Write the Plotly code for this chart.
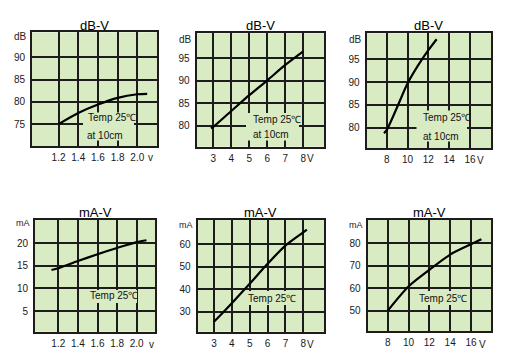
import plotly.graph_objects as go

W, H = 508, 363

# ---------------- data ----------------
db1_v = [1.2, 1.4, 1.6, 1.8, 2.0, 2.1]
db1_db = [75.0, 77.5, 79.4, 80.9, 81.7, 81.8]

db2_v = [2.87, 3, 4, 5, 6, 7, 8]
db2_db = [79.5, 79.8, 83.3, 86.8, 90.1, 93.5, 96.5]

db3_v = [7.74, 8, 9, 10, 11, 12, 12.8]
db3_db = [78.8, 79.5, 84.5, 89.7, 93.6, 97.0, 99.4]

ma1_v = [1.13, 1.2, 1.4, 1.6, 1.8, 2.0, 2.1]
ma1_ma = [14.1, 14.5, 16.1, 17.6, 19.0, 20.3, 20.7]

ma2_v = [3, 4, 5, 6, 7, 8, 8.2]
ma2_ma = [25.5, 33.8, 42.4, 51.3, 59.4, 65.3, 66.5]

ma3_v = [8, 10, 12, 14, 16, 17]
ma3_ma = [50, 60.8, 68.2, 75.0, 79.6, 81.8]

xt_low = [1.2, 1.4, 1.6, 1.8, 2.0]
xl_low = ["1.2", "1.4", "1.6", "1.8", "2.0"]
xt_mid = [3, 4, 5, 6, 7, 8]
xl_mid = ["3", "4", "5", "6", "7", "8"]
xt_high = [8, 10, 12, 14, 16]
xl_high = ["8", "10", "12", "14", "16"]

yt_db1 = [75, 80, 85, 90]
yt_db23 = [80, 85, 90, 95]
yt_ma1 = [5, 10, 15, 20]
yt_ma2 = [30, 40, 50, 60]
yt_ma3 = [50, 60, 70, 80]

titles = ["dB-V", "dB-V", "dB-V", "mA-V", "mA-V", "mA-V"]
units_y = ["dB", "dB", "dB", "mA", "mA", "mA"]
units_x = ["v", "V", "V", "v", "V", "V"]
note_temp = "Temp 25\u2103"
note_dist = "at 10cm"

# ---------------- layout geometry ----------------
BG = "#d9ebc2"
GRID = "#1c1c1c"
FONT = "Liberation Sans, Arial, sans-serif"

panels = [
    dict(x=db1_v, y=db1_db, box=(32, 157, 32.3, 146), xr=[0.93, 2.2], yr=[70.1, 95.6],
         xt=xt_low, xl=xl_low, yt=yt_db1),
    dict(x=db2_v, y=db2_db, box=(196.7, 324, 33.3, 146.7), xr=[2.08, 9.15], yr=[75.4, 100.5],
         xt=xt_mid, xl=xl_mid, yt=yt_db23),
    dict(x=db3_v, y=db3_db, box=(366.7, 491, 33.3, 148.3), xr=[6.08, 18.02], yr=[75.5, 100.7],
         xt=xt_high, xl=xl_high, yt=yt_db23),
    dict(x=ma1_v, y=ma1_ma, box=(35, 155, 220, 331.7), xr=[0.962, 2.187], yr=[0.41, 25.2],
         xt=xt_low, xl=xl_low, yt=yt_ma1),
    dict(x=ma2_v, y=ma2_ma, box=(197.7, 324, 220, 331.7), xr=[2.09, 9.16], yr=[21.1, 70.8],
         xt=xt_mid, xl=xl_mid, yt=yt_ma2),
    dict(x=ma3_v, y=ma3_ma, box=(367.7, 491, 220, 331), xr=[6.08, 17.92], yr=[41, 90.4],
         xt=xt_high, xl=xl_high, yt=yt_ma3),
]

# note placements (left x, center y) in pixels and mask rectangles (x0, x1, y0, y1)
notes = [
    [(85.5, 118, note_temp), (85, 135.5, note_dist)],
    [(250.7, 119, note_temp), (250.7, 134.5, note_dist)],
    [(420.5, 118, note_temp), (420.5, 136, note_dist)],
    [(88, 295.5, note_temp)],
    [(246, 298, note_temp)],
    [(417, 298.3, note_temp)],
]
masks = [
    (83, 134, 112.5, 140.5),
    (246, 299, 113, 140.5),
    (416.5, 467, 110.5, 141.5),
    (86, 137, 290, 303),
    (244, 294, 291, 305),
    (414, 467, 291, 305),
]
title_y = [25, 25, 25, 212, 212, 212]
unit_y = [36, 39.5, 39.5, 222.5, 224.5, 224.5]
unit_x_left = [145.5, 304.5, 475, 147, 305, 476.5]
unit_x_y = [158, 158.5, 160, 344.5, 344.5, 344]


def px(x):
    return x / W


def py(y):
    return 1 - y / H


fig = go.Figure()
annotations = []
shapes = []
layout = dict(
    width=W, height=H,
    margin=dict(l=0, r=0, t=0, b=0),
    paper_bgcolor="white",
    plot_bgcolor=BG,
    showlegend=False,
    font=dict(family=FONT, size=10, color="#1a1a1a"),
)

for i, p in enumerate(panels):
    k = "" if i == 0 else str(i + 1)
    l, r, t, b = p["box"]
    xr0, xr1 = p["xr"]
    yr0, yr1 = p["yr"]

    def dx(v):
        return xr0 + (v - l) / (r - l) * (xr1 - xr0)

    def dy(v):
        return yr0 + (b - v) / (b - t) * (yr1 - yr0)

    fig.add_trace(go.Scatter(
        x=p["x"], y=p["y"], mode="lines",
        line=dict(color="black", width=2.2, shape="spline", smoothing=0.8),
        xaxis="x" + k, yaxis="y" + k, hoverinfo="skip",
    ))
    layout["xaxis" + k] = dict(
        domain=[px(l), px(r)], range=p["xr"], anchor="y" + k,
        tickmode="array", tickvals=p["xt"], ticktext=p["xl"], tickangle=0,
        showgrid=True, gridcolor=GRID, gridwidth=2,
        showline=True, linecolor=GRID, linewidth=2, mirror=True,
        zeroline=False, ticks="", ticklabelstandoff=1,
        tickfont=dict(family=FONT, size=10, color="#1a1a1a"),
        fixedrange=True,
    )
    layout["yaxis" + k] = dict(
        domain=[py(b), py(t)], range=p["yr"], anchor="x" + k,
        tickmode="array", tickvals=p["yt"],
        showgrid=True, gridcolor=GRID, gridwidth=2,
        showline=True, linecolor=GRID, linewidth=2, mirror=True,
        zeroline=False, ticks="", ticklabelstandoff=3,
        tickfont=dict(family=FONT, size=10, color="#1a1a1a"),
        fixedrange=True,
    )
    annotations.append(dict(
        text=titles[i], xref="paper", yref="paper",
        x=px((l + r) / 2), y=py(title_y[i]), xanchor="center", yanchor="middle",
        showarrow=False, font=dict(family=FONT, size=13, color="black"),
    ))
    annotations.append(dict(
        text=units_y[i], xref="paper", yref="paper",
        x=px(l - 3), y=py(unit_y[i]), xanchor="right", yanchor="middle",
        showarrow=False,
        font=dict(family=FONT, size=10 if units_y[i] == "dB" else 9, color="#222222"),
    ))
    annotations.append(dict(
        text=units_x[i], xref="paper", yref="paper",
        x=px(unit_x_left[i]), y=py(unit_x_y[i]), xanchor="left", yanchor="middle",
        showarrow=False, font=dict(family=FONT, size=10, color="#1a1a1a"),
    ))
    for (nx, ny, txt) in notes[i]:
        annotations.append(dict(
            text=txt, xref="paper", yref="paper",
            x=px(nx), y=py(ny), xanchor="left", yanchor="middle",
            showarrow=False, font=dict(family=FONT, size=10, color="#111111"),
        ))
    x0, x1, y0, y1 = masks[i]
    shapes.append(dict(
        type="rect", xref="x" + k, yref="y" + k, layer="between",
        x0=dx(x0), x1=dx(x1), y0=dy(y1), y1=dy(y0),
        fillcolor=BG, line=dict(width=0),
    ))

layout["annotations"] = annotations
layout["shapes"] = shapes
fig.update_layout(**layout)

fig.write_html("out.html", config={"displayModeBar": False})
